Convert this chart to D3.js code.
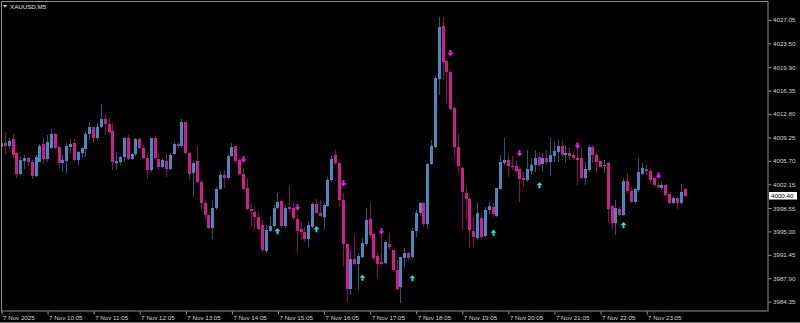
<!DOCTYPE html>
<html>
<head>
<meta charset="utf-8">
<script src="https://cdn.jsdelivr.net/npm/d3@7"></script>
<style>
  body { margin: 0; background: #000; }
  svg { display: block; }
</style>
</head>
<body>
<div id="chart"></div>
<script>
// XAUUSD M5 bars, 7 Nov 2025
const opens = [
  4007.78, 4008.39, 4007.93, 4008.99, 4006.87, 4003.68, 4005.66, 4006.11, 4005.50, 4003.38,
  4005.50, 4008.23, 4005.96, 4007.63, 4009.75, 4007.78, 4005.35, 4005.66, 4007.78, 4008.39,
  4005.81, 4006.87, 4007.48, 4009.75, 4010.81, 4009.14, 4010.81, 4012.03, 4011.27, 4010.21,
  4005.35, 4005.50, 4006.26, 4009.14, 4005.96, 4006.72, 4008.99, 4007.63, 4006.11, 4004.29,
  4009.14, 4005.96, 4004.74, 4005.66, 4004.44, 4006.72, 4008.23, 4007.93, 4011.57, 4006.87,
  4003.83, 4005.66, 4002.47, 3999.28, 3997.46, 3995.48, 3998.52, 4001.40, 4003.53, 4003.07,
  4006.41, 4007.93, 4005.81, 4003.68, 4001.56, 3998.37, 3997.91, 3997.15, 3995.94, 3991.99,
  3995.03, 3995.79, 3998.52, 3999.58, 3995.79, 3998.67, 3998.52, 3996.85, 3995.33, 3994.88,
  3993.81, 3995.64, 3999.13, 3997.76, 3997.15, 3998.82, 4002.77, 4006.57, 4005.35, 3999.74,
  3993.06, 3986.23, 3990.78, 3990.02, 3991.08, 3993.06, 3996.85, 3994.57, 3991.24, 3990.33,
  3990.17, 3993.06, 3992.15, 3989.11, 3986.53, 3990.93, 3991.69, 3991.08, 3995.03, 3997.76,
  3999.28, 3996.09, 4005.20, 4007.78, 4018.10, 4026.14, 4020.83, 4019.16, 4013.70, 4007.78,
  4004.59, 4000.80, 3999.89, 3995.03, 3993.97, 3997.00, 3994.27, 3998.22, 3998.67, 3997.31,
  4001.40, 4005.35, 4005.81, 4004.90, 4004.90, 4004.44, 4003.07, 4002.77, 4004.14, 4005.05,
  4006.26, 4005.20, 4006.11, 4005.50, 4006.41, 4007.02, 4007.93, 4006.57, 4006.87, 4006.57,
  4006.11, 4006.11, 4003.07, 4004.29, 4007.78, 4006.57, 4005.66, 4004.90, 4005.35, 3998.82,
  3996.24, 3998.37, 3997.46, 4002.62, 4001.10, 3999.43, 4001.25, 4003.68, 4004.44, 4004.14,
  4003.07, 4002.01, 4001.56, 4002.01, 4000.65, 3999.28, 4000.04, 3999.28, 4001.40
];
const highs = [
  4008.69, 4010.05, 4009.14, 4009.75, 4007.02, 4006.26, 4006.57, 4006.26, 4005.81, 4006.57,
  4008.23, 4009.30, 4009.60, 4010.51, 4009.90, 4007.93, 4006.57, 4008.39, 4008.99, 4008.99,
  4007.17, 4007.78, 4010.05, 4011.57, 4010.81, 4011.42, 4014.30, 4012.79, 4012.18, 4011.42,
  4007.02, 4006.41, 4009.30, 4009.60, 4006.87, 4009.14, 4009.14, 4008.08, 4006.57, 4009.20,
  4009.45, 4006.87, 4006.11, 4006.87, 4006.87, 4008.54, 4008.54, 4012.03, 4011.65, 4007.02,
  4005.66, 4007.93, 4002.77, 3999.74, 3997.50, 3999.74, 4001.71, 4004.14, 4004.29, 4006.57,
  4008.39, 4008.00, 4006.11, 4004.59, 4003.07, 3999.28, 3998.67, 3997.91, 3996.70, 3995.94,
  3997.15, 3998.98, 4000.80, 3999.74, 3998.98, 4001.86, 3999.43, 3997.46, 3996.24, 3995.64,
  3996.40, 3999.43, 3999.89, 3999.74, 3999.28, 4003.23, 4006.57, 4007.32, 4005.50, 4000.80,
  3993.21, 3992.15, 3994.42, 3991.69, 3993.97, 3998.52, 3999.28, 3994.72, 3991.69, 3994.72,
  3993.67, 3994.72, 3992.20, 3990.63, 3991.15, 3992.45, 3991.84, 3995.48, 3998.22, 3999.43,
  3999.43, 4005.35, 4008.84, 4018.55, 4027.50, 4027.50, 4020.98, 4019.46, 4013.85, 4009.90,
  4004.74, 4001.71, 4000.04, 3997.15, 3999.43, 3997.91, 3998.67, 3999.43, 3999.28, 4001.60,
  4006.57, 4009.14, 4006.72, 4006.41, 4005.81, 4004.74, 4003.99, 4007.32, 4006.11, 4007.32,
  4006.87, 4006.87, 4007.32, 4009.14, 4008.54, 4008.84, 4008.84, 4008.08, 4007.63, 4007.02,
  4007.78, 4007.63, 4005.50, 4008.08, 4008.08, 4006.87, 4005.81, 4005.81, 4005.50, 3998.98,
  3999.74, 3998.67, 4003.07, 4003.83, 4001.71, 4001.56, 4006.11, 4005.35, 4005.05, 4004.44,
  4003.10, 4002.32, 4002.47, 4002.16, 4000.70, 4000.34, 4000.19, 4002.16, 4001.56
];
const lows = [
  4005.66, 4006.57, 4007.63, 4006.11, 4003.07, 4003.53, 4004.44, 4004.90, 4002.92, 4003.23,
  4005.50, 4005.20, 4005.50, 4007.55, 4007.55, 4004.59, 4003.99, 4003.68, 4006.87, 4005.66,
  4005.05, 4006.26, 4006.26, 4008.84, 4008.39, 4008.84, 4010.66, 4009.60, 4009.75, 4004.29,
  4004.29, 4005.05, 4005.50, 4005.81, 4005.81, 4006.41, 4007.55, 4005.96, 4002.92, 4003.99,
  4005.96, 4004.29, 4004.59, 4003.23, 4004.29, 4006.57, 4007.63, 4007.63, 4006.80, 4002.77,
  4000.19, 4002.40, 3998.37, 3996.85, 3995.40, 3993.81, 3998.22, 4001.25, 4001.56, 4003.00,
  4006.26, 4005.35, 4003.60, 4001.25, 3998.22, 3995.64, 3995.18, 3995.18, 3991.84, 3991.69,
  3994.88, 3995.64, 3998.45, 3995.48, 3995.48, 3997.91, 3996.70, 3991.69, 3993.67, 3993.36,
  3992.60, 3995.48, 3997.61, 3997.25, 3995.18, 3998.67, 4002.47, 4005.05, 3998.67, 3989.57,
  3984.26, 3985.32, 3989.95, 3986.08, 3991.00, 3992.75, 3994.12, 3990.63, 3987.90, 3989.87,
  3990.10, 3992.15, 3988.81, 3986.08, 3984.10, 3989.57, 3990.63, 3990.93, 3994.12, 3997.46,
  3995.64, 3995.33, 4005.05, 4007.63, 4015.67, 4017.95, 4014.45, 4013.39, 4006.26, 4003.83,
  3995.18, 3996.70, 3992.45, 3992.60, 3993.67, 3993.67, 3994.12, 3997.61, 3997.15, 3997.15,
  4001.25, 4005.05, 4003.23, 4004.29, 4003.83, 3999.43, 4001.71, 4002.47, 4003.53, 4003.99,
  4004.74, 4003.99, 4005.05, 4003.53, 4005.50, 4005.50, 4006.50, 4005.50, 4005.81, 4005.81,
  4002.01, 4003.00, 4002.01, 4003.99, 4005.35, 4003.99, 4004.70, 4003.83, 3996.24, 3995.18,
  3994.42, 3997.31, 3997.31, 4000.80, 3999.28, 3999.28, 4000.95, 4003.53, 4003.53, 4002.47,
  4001.71, 4001.56, 4001.25, 4000.34, 3999.13, 3999.13, 3998.37, 3999.20, 4000.19
];
const closes = [
  4008.39, 4007.93, 4008.69, 4006.57, 4003.68, 4005.81, 4006.11, 4005.50, 4003.38, 4006.26,
  4007.93, 4005.96, 4008.54, 4009.75, 4007.63, 4005.35, 4005.81, 4007.93, 4008.23, 4005.81,
  4007.02, 4007.63, 4009.75, 4010.81, 4009.14, 4010.81, 4012.03, 4011.27, 4010.05, 4005.50,
  4005.66, 4006.26, 4009.14, 4005.96, 4006.72, 4008.99, 4007.63, 4006.11, 4004.29, 4009.14,
  4006.11, 4004.74, 4005.81, 4004.44, 4006.57, 4008.23, 4007.93, 4011.57, 4006.87, 4003.68,
  4005.35, 4002.47, 3999.28, 3997.46, 3995.48, 3998.52, 4001.40, 4003.53, 4003.07, 4006.41,
  4007.78, 4005.66, 4003.68, 4001.40, 3998.37, 3998.07, 3997.15, 3995.33, 3992.15, 3995.18,
  3995.79, 3998.52, 3999.43, 3995.79, 3998.52, 3998.37, 3997.00, 3995.03, 3994.88, 3993.81,
  3995.94, 3999.13, 3997.76, 3997.31, 3998.98, 4002.77, 4005.96, 4005.35, 3999.74, 3993.06,
  3986.23, 3990.78, 3990.02, 3991.24, 3993.21, 3996.70, 3994.42, 3990.93, 3990.02, 3990.02,
  3993.36, 3992.60, 3989.11, 3986.23, 3991.08, 3991.69, 3990.93, 3995.03, 3997.76, 3999.28,
  3996.09, 4005.20, 4007.93, 4018.25, 4025.99, 4020.68, 4019.16, 4013.54, 4007.78, 4004.90,
  4000.95, 3999.89, 3995.18, 3994.12, 3997.76, 3994.12, 3998.22, 3998.82, 3997.61, 4001.56,
  4005.50, 4005.81, 4004.90, 4004.74, 4004.14, 4002.92, 4002.77, 4004.44, 4005.05, 4006.11,
  4005.05, 4006.11, 4005.50, 4006.57, 4007.17, 4007.93, 4006.57, 4006.87, 4006.41, 4006.11,
  4005.81, 4003.07, 4004.44, 4007.78, 4006.57, 4005.50, 4004.74, 4005.05, 3998.37, 3996.24,
  3998.52, 3997.46, 4002.62, 4001.10, 3999.43, 4001.40, 4003.99, 4004.59, 4004.14, 4002.77,
  4002.01, 4001.71, 4002.01, 4000.50, 3999.28, 4000.04, 3999.28, 4000.95, 4000.40
];

// signal arrows: bar index (0-based) and price
const upArrowBars = [72, 82, 94, 107, 128, 140, 162];
const upArrowPrices = [3995.03, 3995.34, 3987.98, 3987.90, 3994.80, 4002.01, 3995.99];
const downArrowBars = [63, 77, 89, 99, 117, 135, 150, 171];
const downArrowPrices = [4005.96, 3998.67, 4002.32, 3995.03, 4022.04, 4006.87, 4008.01, 4003.48];

// axis labels
const priceTicks = [4027.05, 4023.50, 4019.90, 4016.35, 4012.80, 4009.25, 4005.70,
                    4002.15, 3998.55, 3995.00, 3991.45, 3987.90, 3984.35];
const timeTickBars = [0, 12, 24, 36, 48, 60, 72, 84, 96, 108, 120, 132, 144, 156, 168];
const timeTickLabels = ["7 Nov 2025", "7 Nov 10:05", "7 Nov 11:05", "7 Nov 12:05", "7 Nov 13:05",
                        "7 Nov 14:05", "7 Nov 15:05", "7 Nov 16:05", "7 Nov 17:05", "7 Nov 18:05",
                        "7 Nov 19:05", "7 Nov 20:05", "7 Nov 21:05", "7 Nov 22:05", "7 Nov 23:05"];
const lastPrice = 4000.40;

const width = 800, height = 323;
const plotRight = 768, plotBottom = 311;
const font = "'Liberation Sans', Arial, sans-serif";

const svg = d3.select("#chart")
    .append("svg")
    .attr("width", width)
    .attr("height", height)
    .style("background", "#000");

const n = opens.length;
const x = d3.scaleLinear().domain([0, n - 1]).range([1, 1 + 3.84 * (n - 1)]);
const y = d3.scaleLinear().domain([3984.35, 4027.05]).range([301.7, 20]);

svg.append("clipPath").attr("id", "plotClip")
  .append("rect").attr("x", 2).attr("y", 2).attr("width", plotRight - 2).attr("height", plotBottom - 2);

const bars = d3.range(n).map(i => ({
    i, o: opens[i], h: highs[i], l: lows[i], c: closes[i], up: closes[i] >= opens[i]
}));

const candles = svg.append("g")
    .attr("clip-path", "url(#plotClip)")
    .attr("shape-rendering", "crispEdges");

// wicks
candles.selectAll("rect.wick")
    .data(bars)
    .enter()
    .append("rect")
    .attr("class", "wick")
    .attr("x", d => Math.round(x(d.i)))
    .attr("width", 1)
    .attr("y", d => Math.round(y(d.h)))
    .attr("height", d => Math.max(1, Math.round(y(d.l)) - Math.round(y(d.h))))
    .attr("fill", d => d.up ? "#28557f" : "#850f56");

// bodies
candles.selectAll("rect.body")
    .data(bars)
    .enter()
    .append("rect")
    .attr("class", "body")
    .attr("x", d => Math.round(x(d.i)) - 1)
    .attr("width", 3)
    .attr("y", d => Math.round(y(Math.max(d.o, d.c))))
    .attr("height", d => Math.max(1, Math.round(y(Math.min(d.o, d.c))) - Math.round(y(Math.max(d.o, d.c)))))
    .attr("fill", d => d.up ? "#4a86bf" : "#d21b8c");

// arrows
const downPath = "M-1,-3H1V0H3L0,3L-3,0H-1Z";
const upPath = "M-1,3H1V0H3L0,-3L-3,0H-1Z";

svg.append("g").selectAll("path")
    .data(downArrowBars.map((b, k) => ({ b, p: downArrowPrices[k] })))
    .enter()
    .append("path")
    .attr("d", downPath)
    .attr("transform", d => `translate(${Math.round(x(d.b)) + 0.5},${y(d.p)})`)
    .attr("fill", "#ff10ff");

svg.append("g").selectAll("path")
    .data(upArrowBars.map((b, k) => ({ b, p: upArrowPrices[k] })))
    .enter()
    .append("path")
    .attr("d", upPath)
    .attr("transform", d => `translate(${Math.round(x(d.b)) + 0.5},${y(d.p)})`)
    .attr("fill", "#10e6e6");

// frame
svg.append("rect")
    .attr("x", 1.5).attr("y", 1.5)
    .attr("width", plotRight - 1.5).attr("height", plotBottom - 1.5)
    .attr("fill", "none")
    .attr("stroke", "#8e8e8e");
svg.append("line")
    .attr("x1", 0).attr("x2", width)
    .attr("y1", 322.5).attr("y2", 322.5)
    .attr("stroke", "#6e6e6e");

// price axis
const yAxis = svg.append("g")
    .attr("transform", `translate(${plotRight + 0.5},0)`)
    .call(d3.axisRight(y).tickValues(priceTicks).tickFormat(d3.format(".2f")).tickSize(3).tickPadding(1.5));
yAxis.select(".domain").remove();
yAxis.selectAll("line").attr("stroke", "#9a9a9a");
yAxis.selectAll("text")
    .attr("fill", "#d4d4d4")
    .style("font-family", font)
    .style("font-size", "6.2px");

// time axis
const xAxis = svg.append("g")
    .attr("transform", `translate(0,${plotBottom + 0.5})`)
    .call(d3.axisBottom(x).tickValues(timeTickBars)
        .tickFormat((d, k) => timeTickLabels[k]).tickSize(3).tickPadding(1));
xAxis.select(".domain").remove();
xAxis.selectAll("line").attr("stroke", "#9a9a9a")
    .attr("transform", "translate(0.5,0)");
xAxis.selectAll("text")
    .attr("text-anchor", "start")
    .attr("x", 1.5)
    .attr("fill", "#d4d4d4")
    .style("font-family", font)
    .style("font-size", "6.2px");

// last price tag
const tag = svg.append("g").attr("transform", `translate(${plotRight + 1},${Math.round(y(lastPrice))})`);
tag.append("rect")
    .attr("x", 0).attr("y", -4)
    .attr("width", 28).attr("height", 7.5)
    .attr("fill", "#ffffff");
tag.append("text")
    .attr("x", 2).attr("y", 2.2)
    .attr("fill", "#000")
    .style("font-family", font)
    .style("font-size", "6.2px")
    .text(lastPrice.toFixed(2));

// title
svg.append("path")
    .attr("d", "M3,5H7L5,7.5Z")
    .attr("fill", "#e0e0e0");
svg.append("text")
    .attr("x", 10).attr("y", 8.6)
    .attr("fill", "#e0e0e0")
    .style("font-family", font)
    .style("font-size", "6.2px")
    .text("XAUUSD,M5");
</script>
</body>
</html>
